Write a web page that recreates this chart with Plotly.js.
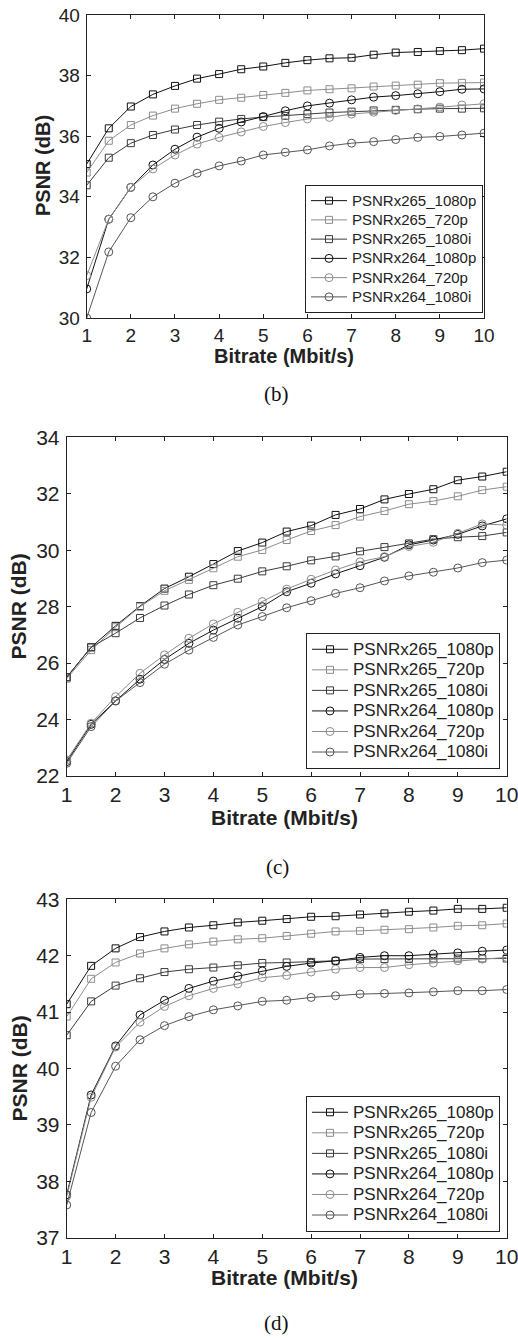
<!DOCTYPE html>
<html>
<head>
<meta charset="utf-8">
<script src="https://cdn.plot.ly/plotly-3.0.1.min.js"></script>
<style>
html,body{margin:0;padding:0;background:#fff;}
#chart{width:518px;height:1339px;}
</style>
</head>
<body>
<div id="chart"></div>
<script>
// ---------- data ----------
const bitrate = [1,1.5,2,2.5,3,3.5,4,4.5,5,5.5,6,6.5,7,7.5,8,8.5,9,9.5,10];
const seriesNames = ["PSNRx265_1080p","PSNRx265_720p","PSNRx265_1080i","PSNRx264_1080p","PSNRx264_720p","PSNRx264_1080i"];
const xTicks = [1,2,3,4,5,6,7,8,9,10];
const captions = ["(b)","(c)","(d)"];
const xTitle = "Bitrate (Mbit/s)";
const yTitle = "PSNR (dB)";

// (b)
const b_x265_1080p = [35.08,36.26,36.98,37.38,37.66,37.90,38.05,38.21,38.30,38.42,38.51,38.57,38.59,38.69,38.76,38.78,38.81,38.84,38.89];
const b_x265_720p  = [34.80,35.85,36.37,36.68,36.91,37.07,37.20,37.27,37.36,37.43,37.51,37.55,37.58,37.64,37.67,37.70,37.75,37.76,37.77];
const b_x265_1080i = [34.38,35.29,35.77,36.04,36.22,36.37,36.48,36.57,36.63,36.67,36.73,36.78,36.81,36.85,36.87,36.89,36.91,36.91,36.92];
const b_x264_1080p = [30.96,33.26,34.31,35.05,35.57,35.97,36.26,36.47,36.65,36.84,37.00,37.09,37.20,37.29,37.34,37.40,37.47,37.55,37.56];
const b_x264_720p  = [31.40,33.26,34.31,34.92,35.38,35.74,35.96,36.14,36.32,36.45,36.57,36.62,36.73,36.79,36.85,36.90,36.96,37.03,37.07];
const b_x264_1080i = [30.00,32.18,33.31,34.00,34.45,34.78,35.02,35.18,35.38,35.47,35.55,35.68,35.77,35.82,35.89,35.96,35.99,36.04,36.10];
const b_yTicks = [30,32,34,36,38,40];

// (c)
const c_x265_1080p = [25.50,26.56,27.32,28.02,28.64,29.06,29.51,29.97,30.27,30.66,30.87,31.25,31.46,31.80,31.99,32.16,32.48,32.61,32.78];
const c_x265_720p  = [25.45,26.46,27.27,28.00,28.56,28.95,29.36,29.77,30.01,30.36,30.68,30.89,31.19,31.39,31.63,31.74,31.91,32.13,32.25];
const c_x265_1080i = [25.50,26.56,27.06,27.60,28.04,28.43,28.76,28.99,29.25,29.43,29.64,29.78,29.96,30.11,30.24,30.39,30.46,30.50,30.63];
const c_x264_1080p = [22.51,23.83,24.66,25.43,26.13,26.70,27.17,27.59,28.00,28.53,28.83,29.16,29.45,29.75,30.19,30.36,30.56,30.86,31.11];
const c_x264_720p  = [22.57,23.87,24.81,25.64,26.29,26.88,27.39,27.80,28.18,28.62,28.97,29.30,29.59,29.77,30.13,30.28,30.60,30.93,30.89];
const c_x264_1080i = [22.45,23.75,24.66,25.31,25.96,26.46,26.91,27.35,27.65,27.96,28.21,28.47,28.67,28.91,29.09,29.22,29.37,29.56,29.65];
const c_yTicks = [22,24,26,28,30,32,34];

// (d)
const d_x265_1080p = [41.14,41.82,42.13,42.33,42.43,42.50,42.54,42.59,42.62,42.65,42.69,42.70,42.73,42.75,42.78,42.80,42.83,42.83,42.85];
const d_x265_720p  = [40.92,41.59,41.88,42.04,42.13,42.20,42.25,42.29,42.31,42.35,42.39,42.43,42.44,42.46,42.47,42.50,42.53,42.54,42.57];
const d_x265_1080i = [40.59,41.19,41.47,41.60,41.71,41.76,41.79,41.83,41.87,41.88,41.89,41.91,41.94,41.94,41.94,41.95,41.95,41.95,41.95];
const d_x264_1080p = [37.76,39.53,40.40,40.95,41.21,41.42,41.55,41.64,41.73,41.81,41.87,41.91,41.97,42.00,42.00,42.03,42.05,42.08,42.10];
const d_x264_720p  = [37.73,39.49,40.38,40.82,41.10,41.29,41.42,41.50,41.61,41.65,41.71,41.76,41.79,41.79,41.84,41.87,41.91,41.94,41.97];
const d_x264_1080i = [37.58,39.22,40.04,40.51,40.76,40.92,41.04,41.11,41.19,41.21,41.26,41.29,41.32,41.33,41.34,41.36,41.38,41.38,41.40];
const d_yTicks = [37,38,39,40,41,42,43];

// ---------- styling ----------
const W = 518, H = 1339;
const SANS = '"Liberation Sans", Arial, sans-serif';
const SERIF = '"Liberation Serif", "Times New Roman", serif';
const INK = '#222';
const lineColors = ['#111111','#8c8c8c','#3c3c3c','#111111','#8c8c8c','#555555'];
const symbols = ['square-open','square-open','square-open','circle-open','circle-open','circle-open'];

const panels = [
  {series:[b_x265_1080p,b_x265_720p,b_x265_1080i,b_x264_1080p,b_x264_720p,b_x264_1080i], yTicks:b_yTicks,
   box:{l:86.7,r:484,t:15,b:318}, tick:19, leg:15, legRow:12.5, title:20, legBox:{r:483,b:313},
   ytitle:{x:43,y:166}, xtitle:{x:284,y:356}, cap:{x:276,y:394}},
  {series:[c_x265_1080p,c_x265_720p,c_x265_1080i,c_x264_1080p,c_x264_720p,c_x264_1080i], yTicks:c_yTicks,
   box:{l:66.7,r:506.7,t:437.3,b:776}, tick:21, leg:17, legRow:13.5, title:21, legBox:{r:500,b:769},
   ytitle:{x:18.5,y:607}, xtitle:{x:284.5,y:817}, cap:{x:277,y:867}},
  {series:[d_x265_1080p,d_x265_720p,d_x265_1080i,d_x264_1080p,d_x264_720p,d_x264_1080i], yTicks:d_yTicks,
   box:{l:66.7,r:506.7,t:899.3,b:1237.7}, tick:21, leg:17, legRow:13.5, title:21, legBox:{r:500,b:1232},
   ytitle:{x:18.5,y:1069}, xtitle:{x:284.5,y:1277}, cap:{x:276,y:1323}}
];

const traces = [];
const layout = {
  width: W, height: H,
  margin: {l:0,r:0,t:0,b:0},
  paper_bgcolor: '#fff', plot_bgcolor: '#fff',
  showlegend: true,
  annotations: []
};

panels.forEach((p, i) => {
  const n = i === 0 ? '' : String(i + 1);
  const xa = 'x' + n, ya = 'y' + n;
  const legName = 'legend' + n;
  p.series.forEach((vals, k) => {
    traces.push({
      type: 'scatter', mode: 'lines+markers',
      x: bitrate, y: vals,
      name: '<span style="font-size:' + p.leg + 'px">' + seriesNames[k] + '</span>',
      xaxis: xa, yaxis: ya, legend: legName,
      line: {color: lineColors[k], width: 1},
      marker: {symbol: symbols[k], size: k < 3 ? 7 : 8, color: lineColors[k], line: {width: 1, color: lineColors[k]}}
    });
  });
  const common = {
    showline: true, mirror: 'ticks', linecolor: INK, linewidth: 1,
    ticks: 'inside', ticklen: 4, tickcolor: INK, tickwidth: 1,
    showgrid: false, zeroline: false, fixedrange: true,
    ticklabeloverflow: 'allow',
    tickfont: {family: SANS, size: p.tick, color: INK}
  };
  layout['xaxis' + n] = Object.assign({}, common, {
    domain: [p.box.l / W, p.box.r / W], anchor: ya,
    range: [1, 10], tickmode: 'array', tickvals: xTicks, ticktext: xTicks.map(String)
  });
  const yMin = p.yTicks[0], yMax = p.yTicks[p.yTicks.length - 1];
  layout['yaxis' + n] = Object.assign({}, common, {
    domain: [1 - p.box.b / H, 1 - p.box.t / H], anchor: xa,
    range: [yMin, yMax], tickmode: 'array', tickvals: p.yTicks, ticktext: p.yTicks.map(String),
    ticklabelstandoff: 2
  });
  layout[legName] = {
    x: p.legBox.r / W, y: 1 - p.legBox.b / H, xanchor: 'right', yanchor: 'bottom',
    xref: 'paper', yref: 'paper',
    bgcolor: '#fff', bordercolor: INK, borderwidth: 1,
    font: {family: SANS, size: p.legRow, color: INK},
    traceorder: 'normal', tracegroupgap: 0, itemwidth: 36
  };
  layout.annotations.push(
    {text: yTitle, x: p.ytitle.x / W, y: 1 - p.ytitle.y / H, xref: 'paper', yref: 'paper',
     xanchor: 'center', yanchor: 'middle', textangle: -90, showarrow: false,
     font: {family: SANS, size: p.title, color: INK, weight: 'bold'}},
    {text: xTitle, x: p.xtitle.x / W, y: 1 - p.xtitle.y / H, xref: 'paper', yref: 'paper',
     xanchor: 'center', yanchor: 'middle', showarrow: false,
     font: {family: SANS, size: p.title, color: INK, weight: 'bold'}},
    {text: captions[i], x: p.cap.x / W, y: 1 - p.cap.y / H, xref: 'paper', yref: 'paper',
     xanchor: 'center', yanchor: 'middle', showarrow: false,
     font: {family: SERIF, size: 21, color: '#111'}}
  );
});

Plotly.newPlot('chart', traces, layout, {staticPlot: true, displayModeBar: false});
</script>
</body>
</html>
